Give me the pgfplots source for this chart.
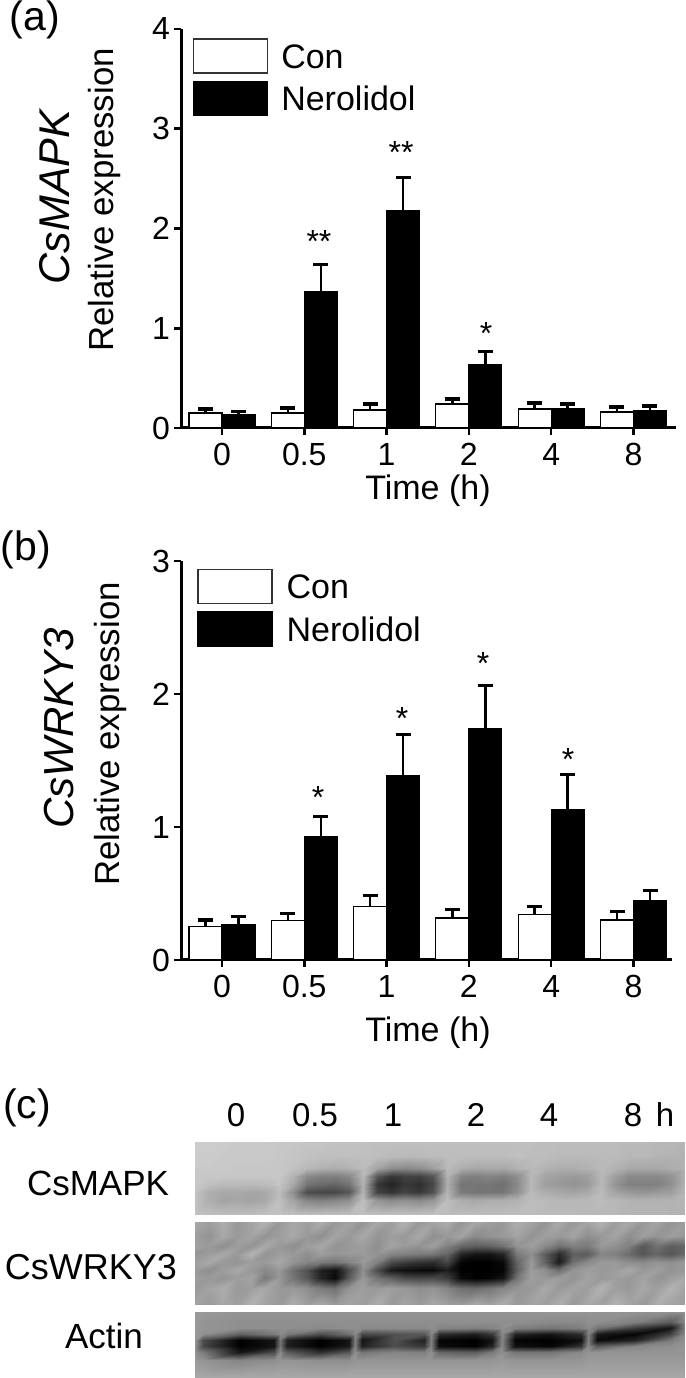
\documentclass[border=0pt]{standalone}
\usepackage{fontspec}
\setmainfont{Liberation Sans}
\usepackage{pgfplots}
\usepackage{pgfplotstable}
\pgfplotsset{compat=1.18}
\pgfplotstableread{
x con conerr ner nererr
0 0.15 0.04 0.137 0.030
1 0.15 0.05 1.365 0.275
2 0.18 0.06 2.18 0.33
3 0.24 0.05 0.64 0.13
4 0.19 0.06 0.197 0.043
5 0.16 0.05 0.174 0.046
}\dataa
\pgfplotstableread{
x con conerr ner nererr
0 0.25 0.05 0.268 0.062
1 0.296 0.054 0.927 0.153
2 0.405 0.081 1.385 0.311
3 0.316 0.061 1.74 0.326
4 0.34 0.06 1.134 0.263
5 0.30 0.067 0.448 0.076
}\datab
\newcommand\fs[1]{\fontsize{#1}{#1}\selectfont}
\pgfplotsset{
  panel/.style={
    scale only axis, ybar=0pt, bar width=33pt,
    axis x line*=bottom, axis y line*=left, axis line style={line width=3pt,-},
    xtick={0,1,2,3,4,5}, xticklabels={0,0.5,1,2,4,8},
    ymin=0, xmin=-0.498,
    tick style={line width=2.6pt,black}, major tick length=7pt,
    ticklabel style={font=\fs{32}},
    /pgf/number format/assume math mode=true,
    xtick align=outside, ytick align=outside,
    clip=false,
    y tick label style={inner sep=0pt, xshift=-4pt},
    x tick label style={inner sep=0pt, yshift=-8pt},
    legend cell align=left,
    legend style={draw=none, fill=none, inner sep=0pt, row sep=7pt, font=\fs{34},
      nodes={inner sep=0pt}},
  },
  conbar/.style={fill=white, draw=black, line width=1.2pt,
    legend image code/.code={\draw[fill=white,draw=black!80,line width=1.2pt] (0pt,-16pt) rectangle (74pt,18pt);},
    error bars/.cd, y dir=plus, y explicit, error mark options={rotate=90,mark size=7.5pt,line width=3.2pt},
    error bar style={line width=2.4pt}},
  nerbar/.style={fill=black, draw=black, line width=1.2pt,
    legend image code/.code={\draw[fill=black,draw=black] (0pt,-16pt) rectangle (74pt,18pt);},
    error bars/.cd, y dir=plus, y explicit, error mark options={rotate=90,mark size=7.5pt,line width=3.2pt},
    error bar style={line width=2.4pt}},
}
\begin{document}
\begin{tikzpicture}
\path[use as bounding box] (0,0) rectangle (685pt,1378pt);
% panel c: blot densities
\begin{axis}[at={(0pt,0pt)},anchor=south west,scale only axis,width=685pt,height=1378pt,
  xmin=0,xmax=685,ymin=0,ymax=1378,y dir=reverse,hide axis,view={0}{90},
  colormap={gel}{gray(0cm)=(0); gray(1cm)=(1)},point meta min=0,point meta max=100]
\addplot3[surf,shader=interp,mesh/cols=36,point meta=explicit] coordinates {
(195,1142,0)[80](209,1142,0)[80](223,1142,0)[80](237,1142,0)[79](251,1142,0)[79](265,1142,0)[79](279,1142,0)[78](293,1142,0)[78](307,1142,0)[77](321,1142,0)[77](335,1142,0)[76](349,1142,0)[76](363,1142,0)[76](377,1142,0)[75](391,1142,0)[75](405,1142,0)[75](419,1142,0)[75](433,1142,0)[75](447,1142,0)[75](461,1142,0)[75](475,1142,0)[75](489,1142,0)[75](503,1142,0)[75](517,1142,0)[75](531,1142,0)[75](545,1142,0)[74](559,1142,0)[74](573,1142,0)[74](587,1142,0)[74](601,1142,0)[74](615,1142,0)[74](629,1142,0)[73](643,1142,0)[73](657,1142,0)[72](671,1142,0)[72](685,1142,0)[71]
(195,1156,0)[80](209,1156,0)[80](223,1156,0)[79](237,1156,0)[79](251,1156,0)[79](265,1156,0)[79](279,1156,0)[78](293,1156,0)[77](307,1156,0)[76](321,1156,0)[75](335,1156,0)[75](349,1156,0)[75](363,1156,0)[75](377,1156,0)[74](391,1156,0)[73](405,1156,0)[73](419,1156,0)[73](433,1156,0)[74](447,1156,0)[74](461,1156,0)[74](475,1156,0)[74](489,1156,0)[74](503,1156,0)[74](517,1156,0)[75](531,1156,0)[74](545,1156,0)[74](559,1156,0)[73](573,1156,0)[73](587,1156,0)[73](601,1156,0)[73](615,1156,0)[73](629,1156,0)[72](643,1156,0)[72](657,1156,0)[71](671,1156,0)[70](685,1156,0)[70]
(195,1168,0)[79](209,1168,0)[79](223,1168,0)[79](237,1168,0)[78](251,1168,0)[78](265,1168,0)[78](279,1168,0)[78](293,1168,0)[76](307,1168,0)[72](321,1168,0)[70](335,1168,0)[68](349,1168,0)[70](363,1168,0)[74](377,1168,0)[64](391,1168,0)[56](405,1168,0)[54](419,1168,0)[56](433,1168,0)[62](447,1168,0)[73](461,1168,0)[68](475,1168,0)[66](489,1168,0)[66](503,1168,0)[66](517,1168,0)[70](531,1168,0)[73](545,1168,0)[70](559,1168,0)[68](573,1168,0)[68](587,1168,0)[70](601,1168,0)[73](615,1168,0)[70](629,1168,0)[66](643,1168,0)[66](657,1168,0)[66](671,1168,0)[68](685,1168,0)[70]
(195,1176,0)[78](209,1176,0)[78](223,1176,0)[78](237,1176,0)[78](251,1176,0)[78](265,1176,0)[78](279,1176,0)[78](293,1176,0)[70](307,1176,0)[54](321,1176,0)[50](335,1176,0)[50](349,1176,0)[54](363,1176,0)[72](377,1176,0)[34](391,1176,0)[22](405,1176,0)[26](419,1176,0)[26](433,1176,0)[34](447,1176,0)[70](461,1176,0)[52](475,1176,0)[50](489,1176,0)[52](503,1176,0)[50](517,1176,0)[56](531,1176,0)[72](545,1176,0)[64](559,1176,0)[62](573,1176,0)[60](587,1176,0)[62](601,1176,0)[72](615,1176,0)[62](629,1176,0)[54](643,1176,0)[54](657,1176,0)[54](671,1176,0)[58](685,1176,0)[70]
(195,1184,0)[78](209,1184,0)[75](223,1184,0)[73](237,1184,0)[73](251,1184,0)[73](265,1184,0)[74](279,1184,0)[77](293,1184,0)[66](307,1184,0)[46](321,1184,0)[42](335,1184,0)[40](349,1184,0)[46](363,1184,0)[70](377,1184,0)[22](391,1184,0)[14](405,1184,0)[22](419,1184,0)[18](433,1184,0)[28](447,1184,0)[68](461,1184,0)[46](475,1184,0)[46](489,1184,0)[46](503,1184,0)[44](517,1184,0)[54](531,1184,0)[72](545,1184,0)[62](559,1184,0)[60](573,1184,0)[58](587,1184,0)[60](601,1184,0)[72](615,1184,0)[58](629,1184,0)[50](643,1184,0)[50](657,1184,0)[50](671,1184,0)[56](685,1184,0)[70]
(195,1192,0)[76](209,1192,0)[68](223,1192,0)[66](237,1192,0)[66](251,1192,0)[65](265,1192,0)[66](279,1192,0)[74](293,1192,0)[56](307,1192,0)[30](321,1192,0)[28](335,1192,0)[28](349,1192,0)[34](363,1192,0)[70](377,1192,0)[26](391,1192,0)[20](405,1192,0)[26](419,1192,0)[22](433,1192,0)[32](447,1192,0)[70](461,1192,0)[48](475,1192,0)[46](489,1192,0)[46](503,1192,0)[46](517,1192,0)[56](531,1192,0)[73](545,1192,0)[68](559,1192,0)[66](573,1192,0)[64](587,1192,0)[66](601,1192,0)[73](615,1192,0)[64](629,1192,0)[60](643,1192,0)[58](657,1192,0)[60](671,1192,0)[62](685,1192,0)[71]
(195,1200,0)[76](209,1200,0)[68](223,1200,0)[64](237,1200,0)[65](251,1200,0)[64](265,1200,0)[66](279,1200,0)[75](293,1200,0)[64](307,1200,0)[52](321,1200,0)[50](335,1200,0)[52](349,1200,0)[56](363,1200,0)[74](377,1200,0)[58](391,1200,0)[54](405,1200,0)[56](419,1200,0)[54](433,1200,0)[58](447,1200,0)[74](461,1200,0)[68](475,1200,0)[66](489,1200,0)[68](503,1200,0)[68](517,1200,0)[70](531,1200,0)[74](545,1200,0)[73](559,1200,0)[72](573,1200,0)[72](587,1200,0)[72](601,1200,0)[74](615,1200,0)[72](629,1200,0)[70](643,1200,0)[70](657,1200,0)[70](671,1200,0)[70](685,1200,0)[71]
(195,1214,0)[76](209,1214,0)[75](223,1214,0)[74](237,1214,0)[74](251,1214,0)[74](265,1214,0)[75](279,1214,0)[76](293,1214,0)[75](307,1214,0)[74](321,1214,0)[74](335,1214,0)[74](349,1214,0)[74](363,1214,0)[75](377,1214,0)[75](391,1214,0)[75](405,1214,0)[75](419,1214,0)[75](433,1214,0)[75](447,1214,0)[74](461,1214,0)[74](475,1214,0)[74](489,1214,0)[74](503,1214,0)[74](517,1214,0)[74](531,1214,0)[74](545,1214,0)[73](559,1214,0)[73](573,1214,0)[73](587,1214,0)[72](601,1214,0)[72](615,1214,0)[72](629,1214,0)[71](643,1214,0)[71](657,1214,0)[71](671,1214,0)[70](685,1214,0)[70]
};
\addplot3[surf,shader=interp,mesh/cols=36,point meta=explicit] coordinates {
(195,1222,0)[66](209,1222,0)[62](223,1222,0)[68](237,1222,0)[60](251,1222,0)[64](265,1222,0)[70](279,1222,0)[60](293,1222,0)[66](307,1222,0)[62](321,1222,0)[68](335,1222,0)[60](349,1222,0)[64](363,1222,0)[58](377,1222,0)[66](391,1222,0)[62](405,1222,0)[70](419,1222,0)[60](433,1222,0)[64](447,1222,0)[68](461,1222,0)[58](475,1222,0)[66](489,1222,0)[62](503,1222,0)[60](517,1222,0)[68](531,1222,0)[64](545,1222,0)[58](559,1222,0)[66](573,1222,0)[60](587,1222,0)[64](601,1222,0)[70](615,1222,0)[62](629,1222,0)[66](643,1222,0)[60](657,1222,0)[64](671,1222,0)[58](685,1222,0)[62]
(195,1236,0)[62](209,1236,0)[58](223,1236,0)[66](237,1236,0)[60](251,1236,0)[64](265,1236,0)[58](279,1236,0)[62](293,1236,0)[66](307,1236,0)[60](321,1236,0)[56](335,1236,0)[64](349,1236,0)[60](363,1236,0)[66](377,1236,0)[58](391,1236,0)[62](405,1236,0)[60](419,1236,0)[66](433,1236,0)[56](447,1236,0)[60](461,1236,0)[64](475,1236,0)[54](489,1236,0)[58](503,1236,0)[60](517,1236,0)[64](531,1236,0)[58](545,1236,0)[62](559,1236,0)[60](573,1236,0)[64](587,1236,0)[56](601,1236,0)[60](615,1236,0)[64](629,1236,0)[56](643,1236,0)[62](657,1236,0)[58](671,1236,0)[62](685,1236,0)[60]
(195,1246,0)[64](209,1246,0)[60](223,1246,0)[56](237,1246,0)[62](251,1246,0)[58](265,1246,0)[66](279,1246,0)[60](293,1246,0)[56](307,1246,0)[62](321,1246,0)[66](335,1246,0)[58](349,1246,0)[60](363,1246,0)[62](377,1246,0)[56](391,1246,0)[64](405,1246,0)[60](419,1246,0)[58](433,1246,0)[62](447,1246,0)[50](461,1246,0)[40](475,1246,0)[36](489,1246,0)[38](503,1246,0)[44](517,1246,0)[58](531,1246,0)[62](545,1246,0)[54](559,1246,0)[44](573,1246,0)[50](587,1246,0)[48](601,1246,0)[60](615,1246,0)[56](629,1246,0)[50](643,1246,0)[34](657,1246,0)[44](671,1246,0)[36](685,1246,0)[40]
(195,1254,0)[58](209,1254,0)[62](223,1254,0)[66](237,1254,0)[60](251,1254,0)[70](265,1254,0)[58](279,1254,0)[62](293,1254,0)[60](307,1254,0)[56](321,1254,0)[62](335,1254,0)[58](349,1254,0)[60](363,1254,0)[60](377,1254,0)[58](391,1254,0)[52](405,1254,0)[50](419,1254,0)[48](433,1254,0)[46](447,1254,0)[40](461,1254,0)[14](475,1254,0)[8](489,1254,0)[8](503,1254,0)[14](517,1254,0)[48](531,1254,0)[56](545,1254,0)[36](559,1254,0)[16](573,1254,0)[38](587,1254,0)[36](601,1254,0)[52](615,1254,0)[50](629,1254,0)[42](643,1254,0)[34](657,1254,0)[40](671,1254,0)[34](685,1254,0)[42]
(195,1262,0)[62](209,1262,0)[66](223,1262,0)[60](237,1262,0)[58](251,1262,0)[62](265,1262,0)[60](279,1262,0)[66](293,1262,0)[58](307,1262,0)[52](321,1262,0)[48](335,1262,0)[46](349,1262,0)[52](363,1262,0)[60](377,1262,0)[50](391,1262,0)[30](405,1262,0)[24](419,1262,0)[20](433,1262,0)[18](447,1262,0)[28](461,1262,0)[2](475,1262,0)[0](489,1262,0)[0](503,1262,0)[4](517,1262,0)[40](531,1262,0)[60](545,1262,0)[38](559,1262,0)[10](573,1262,0)[44](587,1262,0)[54](601,1262,0)[60](615,1262,0)[60](629,1262,0)[56](643,1262,0)[54](657,1262,0)[58](671,1262,0)[56](685,1262,0)[60]
(195,1270,0)[60](209,1270,0)[56](223,1270,0)[62](237,1270,0)[66](251,1270,0)[60](265,1270,0)[54](279,1270,0)[60](293,1270,0)[44](307,1270,0)[32](321,1270,0)[12](335,1270,0)[6](349,1270,0)[30](363,1270,0)[56](377,1270,0)[30](391,1270,0)[10](405,1270,0)[6](419,1270,0)[4](433,1270,0)[4](447,1270,0)[12](461,1270,0)[0](475,1270,0)[0](489,1270,0)[0](503,1270,0)[2](517,1270,0)[38](531,1270,0)[62](545,1270,0)[56](559,1270,0)[44](573,1270,0)[58](587,1270,0)[62](601,1270,0)[60](615,1270,0)[62](629,1270,0)[66](643,1270,0)[60](657,1270,0)[62](671,1270,0)[58](685,1270,0)[60]
(195,1278,0)[62](209,1278,0)[60](223,1278,0)[58](237,1278,0)[62](251,1278,0)[64](265,1278,0)[48](279,1278,0)[60](293,1278,0)[46](307,1278,0)[34](321,1278,0)[14](335,1278,0)[4](349,1278,0)[36](363,1278,0)[60](377,1278,0)[46](391,1278,0)[38](405,1278,0)[30](419,1278,0)[28](433,1278,0)[30](447,1278,0)[24](461,1278,0)[4](475,1278,0)[0](489,1278,0)[2](503,1278,0)[8](517,1278,0)[46](531,1278,0)[62](545,1278,0)[60](559,1278,0)[62](573,1278,0)[58](587,1278,0)[64](601,1278,0)[60](615,1278,0)[62](629,1278,0)[60](643,1278,0)[64](657,1278,0)[58](671,1278,0)[62](685,1278,0)[66]
(195,1288,0)[60](209,1288,0)[64](223,1288,0)[68](237,1288,0)[60](251,1288,0)[62](265,1288,0)[66](279,1288,0)[60](293,1288,0)[60](307,1288,0)[56](321,1288,0)[48](335,1288,0)[44](349,1288,0)[58](363,1288,0)[62](377,1288,0)[60](391,1288,0)[62](405,1288,0)[60](419,1288,0)[56](433,1288,0)[58](447,1288,0)[52](461,1288,0)[44](475,1288,0)[42](489,1288,0)[46](503,1288,0)[52](517,1288,0)[58](531,1288,0)[60](545,1288,0)[66](559,1288,0)[60](573,1288,0)[64](587,1288,0)[62](601,1288,0)[70](615,1288,0)[62](629,1288,0)[60](643,1288,0)[66](657,1288,0)[62](671,1288,0)[70](685,1288,0)[64]
(195,1304,0)[64](209,1304,0)[60](223,1304,0)[66](237,1304,0)[62](251,1304,0)[70](265,1304,0)[64](279,1304,0)[60](293,1304,0)[68](307,1304,0)[62](321,1304,0)[66](335,1304,0)[60](349,1304,0)[64](363,1304,0)[62](377,1304,0)[68](391,1304,0)[60](405,1304,0)[64](419,1304,0)[60](433,1304,0)[66](447,1304,0)[62](461,1304,0)[60](475,1304,0)[66](489,1304,0)[62](503,1304,0)[68](517,1304,0)[60](531,1304,0)[64](545,1304,0)[62](559,1304,0)[68](573,1304,0)[60](587,1304,0)[66](601,1304,0)[62](615,1304,0)[70](629,1304,0)[64](643,1304,0)[60](657,1304,0)[68](671,1304,0)[64](685,1304,0)[62]
};
\addplot3[surf,shader=interp,mesh/cols=25,point meta=explicit] coordinates {
(195,1312,0)[60](203,1312,0)[60](240,1312,0)[58](274,1312,0)[58](280,1312,0)[58](287,1312,0)[58](320,1312,0)[58](349,1312,0)[58](355,1312,0)[58](362,1312,0)[58](395,1312,0)[58](424,1312,0)[58](431,1312,0)[58](439,1312,0)[58](475,1312,0)[58](492,1312,0)[58](502,1312,0)[58](515,1312,0)[58](550,1312,0)[58](581,1312,0)[58](588,1312,0)[58](597,1312,0)[58](635,1312,0)[58](670,1312,0)[56](685,1312,0)[56]
(195,1322,0)[60](203,1322,0)[58](240,1322,0)[56](274,1322,0)[56](280,1322,0)[56](287,1322,0)[56](320,1322,0)[56](349,1322,0)[56](355,1322,0)[56](362,1322,0)[56](395,1322,0)[56](424,1322,0)[56](431,1322,0)[56](439,1322,0)[56](475,1322,0)[56](492,1322,0)[56](502,1322,0)[56](515,1322,0)[56](550,1322,0)[54](581,1322,0)[54](588,1322,0)[56](597,1322,0)[56](635,1322,0)[50](670,1322,0)[36](685,1322,0)[54]
(195,1328,0)[60](203,1328,0)[58](240,1328,0)[56](274,1328,0)[56](280,1328,0)[56](287,1328,0)[56](320,1328,0)[54](349,1328,0)[56](355,1328,0)[56](362,1328,0)[54](395,1328,0)[54](424,1328,0)[54](431,1328,0)[56](439,1328,0)[52](475,1328,0)[50](492,1328,0)[52](502,1328,0)[56](515,1328,0)[50](550,1328,0)[46](581,1328,0)[50](588,1328,0)[54](597,1328,0)[46](635,1328,0)[22](670,1328,0)[8](685,1328,0)[50]
(195,1334,0)[60](203,1334,0)[56](240,1334,0)[38](274,1334,0)[48](280,1334,0)[54](287,1334,0)[48](320,1334,0)[30](349,1334,0)[44](355,1334,0)[54](362,1334,0)[28](395,1334,0)[32](424,1334,0)[34](431,1334,0)[52](439,1334,0)[18](475,1334,0)[12](492,1334,0)[22](502,1334,0)[54](515,1334,0)[14](550,1334,0)[8](581,1334,0)[18](588,1334,0)[50](597,1334,0)[10](635,1334,0)[2](670,1334,0)[26](685,1334,0)[54]
(195,1340,0)[58](203,1340,0)[30](240,1340,0)[0](274,1340,0)[8](280,1340,0)[46](287,1340,0)[12](320,1340,0)[0](349,1340,0)[8](355,1340,0)[50](362,1340,0)[8](395,1340,0)[32](424,1340,0)[14](431,1340,0)[50](439,1340,0)[2](475,1340,0)[0](492,1340,0)[8](502,1340,0)[52](515,1340,0)[2](550,1340,0)[0](581,1340,0)[6](588,1340,0)[50](597,1340,0)[4](635,1340,0)[14](670,1340,0)[48](685,1340,0)[56]
(195,1346,0)[58](203,1346,0)[28](240,1346,0)[0](274,1346,0)[8](280,1346,0)[46](287,1346,0)[12](320,1346,0)[0](349,1346,0)[10](355,1346,0)[50](362,1346,0)[12](395,1346,0)[30](424,1346,0)[22](431,1346,0)[50](439,1346,0)[4](475,1346,0)[0](492,1346,0)[14](502,1346,0)[52](515,1346,0)[6](550,1346,0)[2](581,1346,0)[20](588,1346,0)[54](597,1346,0)[36](635,1346,0)[52](670,1346,0)[56](685,1346,0)[58]
(195,1352,0)[58](203,1352,0)[48](240,1352,0)[8](274,1352,0)[30](280,1352,0)[54](287,1352,0)[36](320,1352,0)[18](349,1352,0)[34](355,1352,0)[56](362,1352,0)[46](395,1352,0)[52](424,1352,0)[50](431,1352,0)[56](439,1352,0)[40](475,1352,0)[36](492,1352,0)[48](502,1352,0)[56](515,1352,0)[46](550,1352,0)[46](581,1352,0)[54](588,1352,0)[58](597,1352,0)[58](635,1352,0)[58](670,1352,0)[58](685,1352,0)[58]
(195,1360,0)[60](203,1360,0)[58](240,1360,0)[52](274,1360,0)[56](280,1360,0)[58](287,1360,0)[58](320,1360,0)[56](349,1360,0)[56](355,1360,0)[58](362,1360,0)[58](395,1360,0)[58](424,1360,0)[58](431,1360,0)[58](439,1360,0)[58](475,1360,0)[58](492,1360,0)[58](502,1360,0)[60](515,1360,0)[58](550,1360,0)[58](581,1360,0)[58](588,1360,0)[60](597,1360,0)[60](635,1360,0)[60](670,1360,0)[60](685,1360,0)[60]
(195,1377,0)[66](203,1377,0)[66](240,1377,0)[66](274,1377,0)[66](280,1377,0)[66](287,1377,0)[66](320,1377,0)[66](349,1377,0)[66](355,1377,0)[66](362,1377,0)[66](395,1377,0)[66](424,1377,0)[66](431,1377,0)[66](439,1377,0)[66](475,1377,0)[66](492,1377,0)[66](502,1377,0)[66](515,1377,0)[66](550,1377,0)[66](581,1377,0)[66](588,1377,0)[66](597,1377,0)[66](635,1377,0)[66](670,1377,0)[66](685,1377,0)[66]
};
\end{axis}
% panel a
\begin{axis}[panel,at={(181pt,950pt)},anchor=south west,width=495pt,height=399pt,
  xmax=5.517,ymax=4,ytick={0,1,2,3,4},
  legend style={at={(0.024,0.977)},anchor=north west}]
\addplot[conbar] table[x=x,y=con,y error plus=conerr]{\dataa};
\addlegendentry{\hspace{13pt}Con}
\addplot[nerbar] table[x=x,y=ner,y error plus=nererr]{\dataa};
\addlegendentry{\hspace{13pt}Nerolidol}
\end{axis}
% panel b
\begin{axis}[panel,at={(181pt,418pt)},anchor=south west,width=490.6pt,height=399pt,
  xmax=5.463,ymax=3,ytick={0,1,2,3},
  legend style={at={(0.033,0.98)},anchor=north west}]
\addplot[conbar] table[x=x,y=con,y error plus=conerr]{\datab};
\addlegendentry{\hspace{14pt}Con}
\addplot[nerbar] table[x=x,y=ner,y error plus=nererr]{\datab};
\addlegendentry{\hspace{14pt}Nerolidol}
\end{axis}
% text, placed in image pixels
\begin{scope}[x=1pt,y=-1pt,yshift=1378pt,every node/.style={inner sep=0pt}]
\node[font=\fs{41}] at (35,20) {(a)};
\node[font=\fs{41}] at (26,550) {(b)};
\node[font=\fs{41}] at (27,1108) {(c)};
\node[font=\fs{43}\itshape,rotate=90] at (55,197) {CsMAPK};
\node[font=\fs{42}\itshape,rotate=90] at (59,728) {CsWRKY3};
\node[font=\fs{34.8},rotate=90] at (105,200) {Relative expression};
\node[font=\fs{34.8},rotate=90] at (111,734) {Relative expression};
\node[font=\fs{34}] at (428,491) {Time (h)};
\node[font=\fs{34}] at (428,1033) {Time (h)};
\node[font=\fs{32}] at (319,242) {**};
\node[font=\fs{32}] at (401,153) {**};
\node[font=\fs{32}] at (486,334) {*};
\node[font=\fs{32}] at (318,798) {*};
\node[font=\fs{32}] at (402,719) {*};
\node[font=\fs{32}] at (483,664) {*};
\node[font=\fs{32}] at (568,760) {*};
\node[font=\fs{33}] at (236,1115) {0};
\node[font=\fs{33}] at (315,1115) {0.5};
\node[font=\fs{33}] at (393,1115) {1};
\node[font=\fs{33}] at (476,1115) {2};
\node[font=\fs{33}] at (549,1115) {4};
\node[font=\fs{33}] at (633,1115) {8};
\node[font=\fs{33}] at (665,1115) {h};
\node[font=\fs{35}] at (98,1183) {CsMAPK};
\node[font=\fs{36}] at (91,1267) {CsWRKY3};
\node[font=\fs{35}] at (104,1336) {Actin};
\end{scope}
\end{tikzpicture}
\end{document}
